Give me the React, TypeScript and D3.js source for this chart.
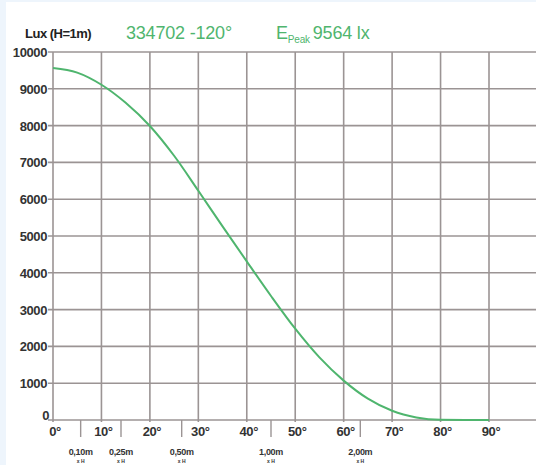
import React from "react";
import * as d3 from "d3";

const angles = [0, 5, 10, 15, 20, 25, 30, 35, 40, 45, 50, 55, 60, 65, 70, 75, 80, 85, 90];
const lux = [9564, 9440, 9110, 8620, 7990, 7180, 6230, 5260, 4310, 3370, 2480, 1700, 1070, 580, 250, 70, 5, 0, 0];
const yTicks = [0, 1000, 2000, 3000, 4000, 5000, 6000, 7000, 8000, 9000, 10000];
const xTicks = [0, 10, 20, 30, 40, 50, 60, 70, 80, 90];
const distLabels = ["0,10m", "0,25m", "0,50m", "1,00m", "2,00m"];
const distValues = [0.1, 0.25, 0.5, 1.0, 2.0];

const W = 536;
const H = 465;

export default function App() {
  const x = d3.scaleLinear().domain([0, 90]).range([53, 489]);
  const y = d3.scaleLinear().domain([0, 10000]).range([420, 52]);
  const line = d3
    .line<number>()
    .x((_, i) => x(angles[i]))
    .y((d) => y(d))
    .curve(d3.curveMonotoneX);
  const grid = "#9b9494";
  const green = "#4fb56e";
  const font = "'Liberation Sans', Arial, sans-serif";
  return (
    <div style={{ position: "absolute", left: 0, top: 0 }}>
      <svg width={W} height={H} style={{ display: "block" }}>
        <rect x={0} y={0} width={W} height={H} fill="#eef5fc" />
        <rect x={6} y={2} width={W - 6} height={H - 2} fill="#ffffff" />
        {yTicks.map((t) => (
          <line key={"h" + t} x1={48} x2={W} y1={y(t)} y2={y(t)} stroke={grid} strokeWidth={1.6} />
        ))}
        {xTicks.map((t) => (
          <line key={"v" + t} x1={x(t)} x2={x(t)} y1={y(10000)} y2={y(0) + 2} stroke={grid} strokeWidth={1.6} />
        ))}
        {distValues.map((d) => {
          const a = (Math.atan(d) * 180) / Math.PI;
          return <line key={"d" + d} x1={x(a)} x2={x(a)} y1={y(0)} y2={y(0) + 17} stroke={grid} strokeWidth={1.4} />;
        })}
        <path d={line(lux) || ""} fill="none" stroke={green} strokeWidth={2} />
        {yTicks.map((t) => (
          <text key={"yl" + t} x={t === 0 ? 49 : 47} y={y(t) + (t === 0 ? 0 : 5)} textAnchor="end" fontFamily={font} fontSize={13} fontWeight="bold" fill="#333" letterSpacing={-0.4}>
            {t}
          </text>
        ))}
        {xTicks.map((t) => (
          <text key={"xl" + t} x={x(t) + 2} y={436} textAnchor="middle" fontFamily={font} fontSize={13} fontWeight="bold" fill="#333" letterSpacing={-0.4}>
            {t + "°"}
          </text>
        ))}
        {distValues.map((d, i) => {
          const a = (Math.atan(d) * 180) / Math.PI;
          return (
            <g key={"dl" + d}>
              <text x={x(a)} y={455} textAnchor="middle" fontFamily={font} fontSize={9} fontWeight="bold" fill="#333" letterSpacing={-0.3}>
                {distLabels[i]}
              </text>
              <text x={x(a)} y={463} textAnchor="middle" fontFamily={font} fontSize={5} fontWeight="bold" fill="#333">
                x H
              </text>
            </g>
          );
        })}
        <text x={25} y={38} fontFamily={font} fontSize={13} fontWeight="bold" fill="#222" letterSpacing={-0.5}>
          Lux (H=1m)
        </text>
        <text x={126} y={39} fontFamily={font} fontSize={18} fill={green} letterSpacing={-0.2}>
          334702 -120°
        </text>
        <text x={276} y={39} fontFamily={font} fontSize={18} fill={green} letterSpacing={-0.2}>
          E
          <tspan fontSize={10} dy={4}>Peak</tspan>
          <tspan dy={-4} dx={3}>9564 lx</tspan>
        </text>
      </svg>
    </div>
  );
}
